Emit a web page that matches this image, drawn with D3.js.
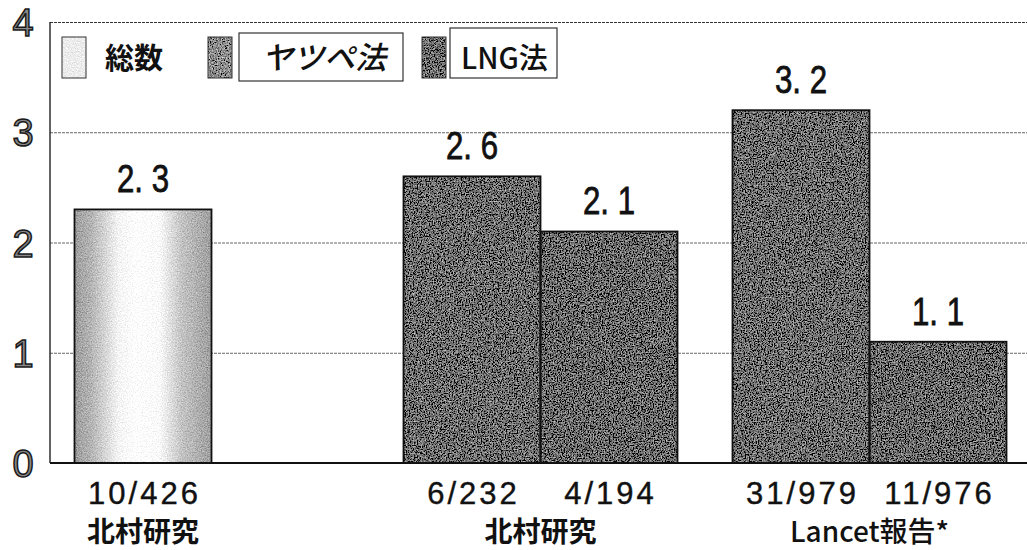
<!DOCTYPE html>
<html>
<head>
<meta charset="utf-8">
<script src="https://cdn.jsdelivr.net/npm/d3@7"></script>
<style>
  html, body { margin: 0; padding: 0; background: #fff; }
  svg { display: block; }
</style>
</head>
<body>
<svg id="chart" width="1027" height="550"></svg>
<script>
// ---- data ----
const groupIds = ["kitamura-total", "kitamura", "lancet"];
const groupLabels = ["北村研究", "北村研究", "Lancet報告*"];
const seriesNames = ["総数", "ヤツペ法", "LNG法"];
const totalValues   = [2.3, null, null];
const yatsupeValues = [null, 2.6, 3.2];
const lngValues     = [null, 2.1, 1.1];
const totalCounts   = ["10/426", null, null];
const yatsupeCounts = [null, "6/232", "31/979"];
const lngCounts     = [null, "4/194", "11/976"];
const yTicks = [0, 1, 2, 3, 4];

// ---- layout ----
const plot = { left: 50, right: 1027, top: 22, bottom: 463 };
const svg = d3.select("#chart");

const y = d3.scaleLinear().domain([0, 4]).range([plot.bottom, plot.top]);
const x = d3.scaleBand().domain(groupIds)
  .range([47, 1034]).paddingInner(55 / 329).paddingOuter(27.5 / 329);
const slot = d3.scaleBand().domain([0, 1]).range([0, x.bandwidth()]);

// bars per group, filled left to right in series order
const seriesValues = [totalValues, yatsupeValues, lngValues];
const seriesCounts = [totalCounts, yatsupeCounts, lngCounts];
const bars = [];
groupIds.forEach((g, gi) => {
  let k = 0;
  seriesValues.forEach((vals, si) => {
    if (vals[gi] != null) {
      bars.push({ group: g, gi, series: si, slot: k++, value: vals[gi], count: seriesCounts[si][gi] });
    }
  });
});

// ---- paint definitions ----
const defs = svg.append("defs");

function grainFilter(id, amount, freq, seed) {
  const f = defs.append("filter").attr("id", id)
    .attr("x", 0).attr("y", 0).attr("width", 1).attr("height", 1);
  f.append("feTurbulence").attr("type", "fractalNoise")
    .attr("baseFrequency", freq).attr("numOctaves", 2).attr("seed", seed).attr("result", "n");
  f.append("feColorMatrix").attr("in", "n").attr("type", "matrix")
    .attr("values", "1 0 0 0 0  1 0 0 0 0  1 0 0 0 0  0 0 0 0 1").attr("result", "g");
  f.append("feComposite").attr("in", "SourceGraphic").attr("in2", "g")
    .attr("operator", "arithmetic").attr("k1", 0).attr("k2", 1)
    .attr("k3", amount).attr("k4", -amount / 2).attr("result", "c");
  f.append("feComposite").attr("in", "c").attr("in2", "SourceGraphic").attr("operator", "in");
}
grainFilter("grainDark", 1.3, 0.75, 4);
grainFilter("grainLight", 0.6, 0.8, 7);

const cyl = defs.append("linearGradient").attr("id", "cylinder")
  .attr("x1", 0).attr("x2", 1).attr("y1", 0).attr("y2", 0);
[[0, "#9c9c9c"], [0.12, "#b4b4b4"], [0.32, "#f4f4f4"], [0.45, "#ffffff"],
 [0.62, "#fafafa"], [0.78, "#c4c4c4"], [1, "#9e9e9e"]].forEach(([o, c]) =>
  cyl.append("stop").attr("offset", o).attr("stop-color", c));

const seriesFill = ["url(#cylinder)", "#6e6e6e", "#6a6a6a"];
const seriesGrain = ["grainLight", "grainDark", "grainDark"];
const legendFill = ["#ececec", "#8c8c8c", "#6e6e6e"];

// ---- gridlines and axis ----
const yAxis = d3.axisLeft(y).tickValues(yTicks)
  .tickSize(-(plot.right - plot.left)).tickFormat(d3.format("d"));
const ga = svg.append("g").attr("transform", `translate(${plot.left},0)`).call(yAxis);
ga.select(".domain").remove();
ga.selectAll(".tick line")
  .attr("stroke", d => d === 4 ? "#333" : "#666")
  .attr("stroke-width", d => d === 0 ? 0 : 1)
  .attr("stroke-dasharray", "3,1");
ga.selectAll(".tick text")
  .attr("x", -27).attr("dy", "0.36em")
  .attr("text-anchor", "middle")
  .style("font-family", "'Liberation Sans', Arial, sans-serif")
  .style("font-size", "38px")
  .attr("fill", "#8a8a8a").attr("stroke", "#1a1a1a").attr("stroke-width", 1.5);

// ---- bars ----
const gb = svg.append("g");
const bx = d => x(d.group) + slot(d.slot);
gb.selectAll("rect.fill").data(bars).join("rect").attr("class", "fill")
  .attr("x", bx).attr("width", slot.bandwidth())
  .attr("y", d => y(d.value)).attr("height", d => y(0) - y(d.value))
  .attr("fill", d => seriesFill[d.series])
  .attr("filter", d => `url(#${seriesGrain[d.series]})`);
gb.selectAll("rect.edge").data(bars).join("rect").attr("class", "edge")
  .attr("x", bx).attr("width", slot.bandwidth())
  .attr("y", d => y(d.value)).attr("height", d => y(0) - y(d.value))
  .attr("fill", "none").attr("stroke", "#111").attr("stroke-width", 1.8);

// axis lines
svg.append("line").attr("x1", plot.left).attr("x2", plot.left)
  .attr("y1", plot.top).attr("y2", plot.bottom).attr("stroke", "#222").attr("stroke-width", 1.4);
svg.append("line").attr("x1", plot.left).attr("x2", plot.right)
  .attr("y1", plot.bottom).attr("y2", plot.bottom).attr("stroke", "#111").attr("stroke-width", 2);

// ---- value labels ----
const fmtVal = v => d3.format(".1f")(v).replace(".", ". ");
svg.append("g").selectAll("text").data(bars).join("text")
  .attr("transform", d => `translate(${bx(d) + slot.bandwidth() / 2},${y(d.value) - 17}) scale(0.8,1)`)
  .attr("text-anchor", "middle")
  .style("font-family", "'Liberation Sans', Arial, sans-serif")
  .style("font-size", "39px")
  .attr("fill", "#111").attr("stroke", "#111").attr("stroke-width", 0.8)
  .text(d => fmtVal(d.value));

// ---- category labels ----
svg.append("g").selectAll("text").data(bars).join("text")
  .attr("x", d => bx(d) + slot.bandwidth() / 2 + 1.5)
  .attr("y", 504)
  .attr("text-anchor", "middle")
  .style("font-family", "'Liberation Sans', Arial, sans-serif")
  .style("font-size", "31px")
  .style("letter-spacing", "3px")
  .attr("fill", "#111").attr("stroke", "#111").attr("stroke-width", 0.4)
  .text(d => d.count);

svg.append("g").selectAll("text").data(groupIds).join("text")
  .attr("x", (g, i) => {
    const members = bars.filter(b => b.gi === i);
    const x0 = d3.min(members, bx), x1 = d3.max(members, b => bx(b) + slot.bandwidth());
    return (x0 + x1) / 2;
  })
  .attr("y", 542)
  .attr("text-anchor", "middle")
  .style("font-family", "'Noto Sans CJK JP', sans-serif")
  .style("font-size", "28px")
  .style("font-weight", (g, i) => i === 2 ? 500 : 700)
  .attr("fill", "#111")
  .text((g, i) => groupLabels[i]);

// ---- legend ----
const legendItems = [
  { swatchX: 62, textX: 105, box: null, italic: false },
  { swatchX: 208, textX: 262, box: { x: 239, y: 33, w: 164, h: 48 }, italic: true },
  { swatchX: 422, textX: 461, box: { x: 450, y: 28, w: 107, h: 50 }, italic: false }
];
const gl = svg.append("g");
legendItems.forEach((it, i) => {
  gl.append("rect").attr("x", it.swatchX).attr("y", 37).attr("width", 24).attr("height", 41)
    .attr("fill", legendFill[i]).attr("filter", `url(#${seriesGrain[i]})`);
  gl.append("rect").attr("x", it.swatchX).attr("y", 37).attr("width", 24).attr("height", 41)
    .attr("fill", "none").attr("stroke", "#333").attr("stroke-width", 1);
  if (it.box) {
    gl.append("rect").attr("x", it.box.x).attr("y", it.box.y)
      .attr("width", it.box.w).attr("height", it.box.h)
      .attr("fill", "#fff").attr("stroke", "#333").attr("stroke-width", 1.2);
  }
  gl.append("text").attr("x", it.textX).attr("y", 69)
    .style("font-family", "'Noto Sans CJK JP', sans-serif")
    .style("font-size", i === 1 ? "31px" : "29px")
    .style("font-weight", i === 0 ? 700 : 500)
    .style("font-style", it.italic ? "italic" : "normal")
    .attr("fill", "#111")
    .text(seriesNames[i]);
});
</script>
</body>
</html>
